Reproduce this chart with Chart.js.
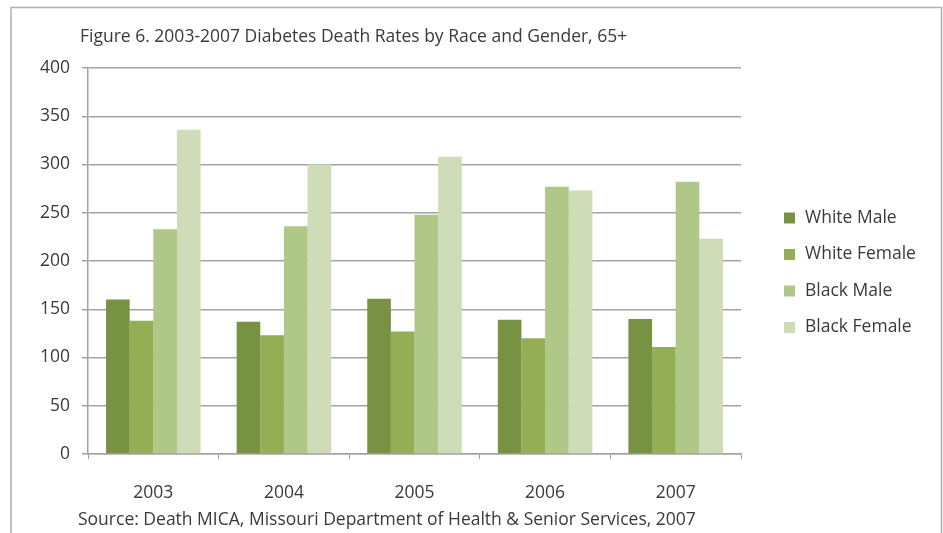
<!DOCTYPE html>
<html>
<head>
<meta charset="utf-8">
<script src="https://cdn.jsdelivr.net/npm/chart.js@4/dist/chart.umd.min.js"></script>
<style>
  html, body { margin: 0; padding: 0; background: #fff; }
  #wrap { width: 943px; height: 533px; }
</style>
</head>
<body>
<div id="wrap"><canvas id="diabetesChart" width="943" height="533"></canvas></div>
<script>
// data
const years = ['2003', '2004', '2005', '2006', '2007']
const whiteMale = [160, 137, 161, 139, 140]
const whiteFemale = [138, 123, 127, 120, 111]
const blackMale = [233, 236, 248, 277, 282]
const blackFemale = [336, 300, 308, 273, 223]
const yTicks = [0, 50, 100, 150, 200, 250, 300, 350, 400]

const titleText = 'Figure 6. 2003-2007 Diabetes Death Rates by Race and Gender, 65+'
const sourceText = 'Source: Death MICA, Missouri Department of Health & Senior Services, 2007'

const FONT = "'Open Sans', 'Liberation Sans', sans-serif"
const FONT_SIZE = 17.5
const textColor = '#3a3a3a'
const gridColor = '#a3a3a3'

// frame, title, source and legend are drawn here
const decorations = {
  id: 'decorations',
  beforeDraw(chart) {
    const ctx = chart.ctx
    ctx.save()
    ctx.strokeStyle = '#b0b0b0'
    ctx.lineWidth = 1.5
    ctx.beginPath()
    ctx.moveTo(11, 540)
    ctx.lineTo(11, 7.5)
    ctx.lineTo(941.5, 7.5)
    ctx.lineTo(941.5, 540)
    ctx.stroke()
    ctx.restore()
  },
  afterDraw(chart) {
    const ctx = chart.ctx
    const area = chart.chartArea
    ctx.save()
    ctx.fillStyle = textColor
    ctx.textBaseline = 'middle'
    ctx.textAlign = 'left'
    ctx.font = FONT_SIZE + 'px ' + FONT
    ctx.fillText(titleText, 80, 37)
    ctx.fillText(sourceText, 78, 520)

    // legend
    chart.data.datasets.forEach((ds, i) => {
      const y = 218 + i * 36.5
      ctx.fillStyle = ds.backgroundColor
      ctx.fillRect(area.right + 43, y - 5.5, 11, 11)
      ctx.fillStyle = textColor
      ctx.fillText(ds.label, area.right + 64, y)
    })
    ctx.restore()
  }
}

const data = {
  labels: years,
  datasets: [
    { label: 'White Male', data: whiteMale, backgroundColor: '#789244' },
    { label: 'White Female', data: whiteFemale, backgroundColor: '#93ae55' },
    { label: 'Black Male', data: blackMale, backgroundColor: '#afc787' },
    { label: 'Black Female', data: blackFemale, backgroundColor: '#cfdcb8' }
  ]
}

const config = {
  type: 'bar',
  data: data,
  options: {
    responsive: false,
    animation: false,
    datasets: {
      bar: { categoryPercentage: 0.724, barPercentage: 1.0, borderWidth: 0 }
    },
    layout: {
      padding: { top: 68, left: 28, right: 202, bottom: 5 }
    },
    plugins: {
      legend: { display: false },
      title: { display: false },
      tooltip: { enabled: false }
    },
    scales: {
      x: {
        grid: {
          offset: true,
          drawOnChartArea: false,
          drawTicks: true,
          tickLength: 5,
          color: gridColor
        },
        border: { color: gridColor, width: 1.5 },
        ticks: {
          color: textColor,
          font: { family: FONT, size: FONT_SIZE },
          padding: 24
        }
      },
      y: {
        min: 0,
        max: 400,
        afterBuildTicks: axis => { axis.ticks = yTicks.map(v => ({ value: v })) },
        grid: {
          color: gridColor,
          lineWidth: 1.5,
          tickLength: 6
        },
        border: { color: gridColor, width: 1.5 },
        ticks: {
          color: textColor,
          font: { family: FONT, size: FONT_SIZE },
          padding: 12
        }
      }
    }
  },
  plugins: [decorations]
}

const diabetesChart = new Chart(document.getElementById('diabetesChart'), config)
</script>
</body>
</html>
